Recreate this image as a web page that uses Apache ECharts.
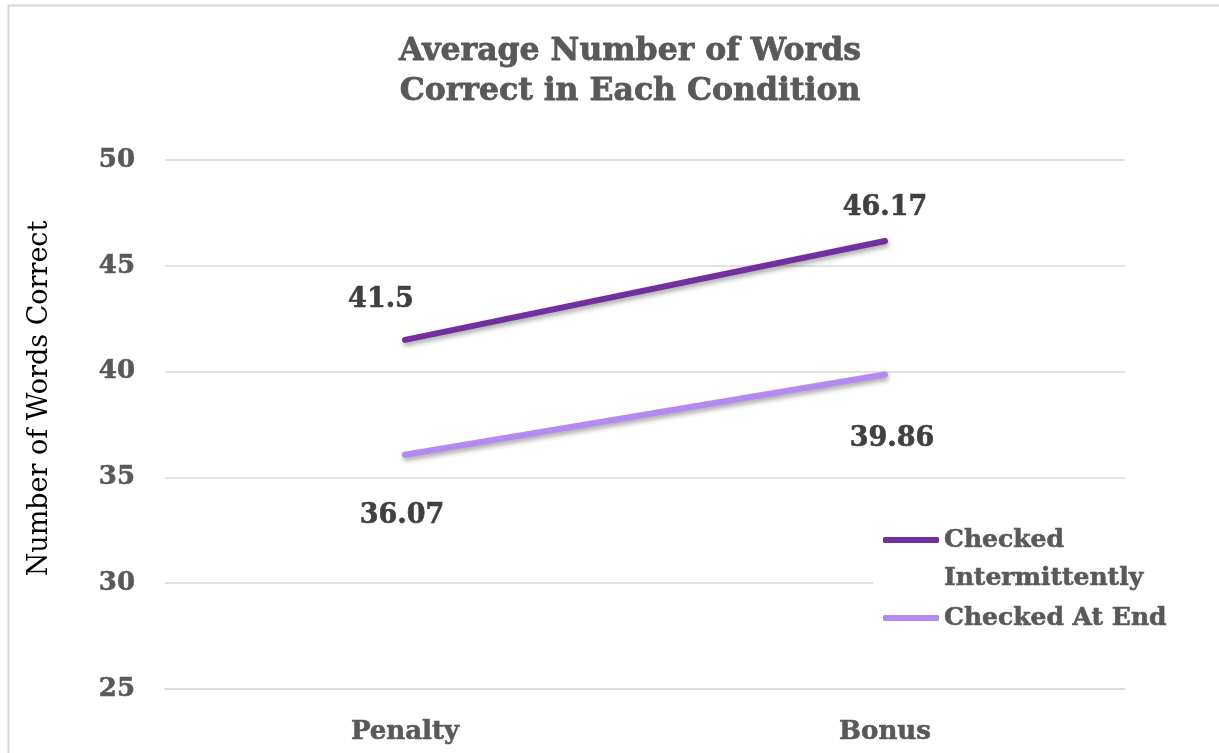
<!DOCTYPE html>
<html>
<head>
<meta charset="utf-8">
<script src="https://cdn.jsdelivr.net/npm/echarts@6/dist/echarts.min.js"></script>
<style>
html,body{margin:0;padding:0;background:#fff;}
#chart{width:1219px;height:753px;}
</style>
</head>
<body>
<div id="chart"></div>
<script>
const categories = ['Penalty', 'Bonus'];
const seriesNames = ['Checked Intermittently', 'Checked At End'];
const intermittent = [41.5, 46.17];
const atEnd = [36.07, 39.86];
const yTicks = [25, 30, 35, 40, 45, 50];

const FONT = '"DejaVu Serif", "Liberation Serif", serif';
const chart = echarts.init(document.getElementById('chart'));

const GREY = '#595959';
const labelBase = {show: true, position: 'inside', fontFamily: FONT, fontWeight: 'bold', fontSize: 27, color: '#404040', textBorderColor: '#404040', textBorderWidth: 0.6};

chart.setOption({
  backgroundColor: '#fff',
  animation: false,
  graphic: [{
    type: 'rect', silent: true, z: -10,
    shape: {x: 8.5, y: 5.5, width: 1400, height: 900},
    style: {fill: 'none', stroke: '#d9d9d9', lineWidth: 2}
  }],
  title: {
    text: 'Average Number of Words\nCorrect in Each Condition',
    left: 625, top: 27, textAlign: 'center',
    textStyle: {fontFamily: FONT, fontWeight: 'bold', fontSize: 31.5, lineHeight: 40, color: GREY, textBorderColor: GREY, textBorderWidth: 0.8}
  },
  grid: {left: 165, right: 94, top: 160, bottom: 64},
  legend: {
    orient: 'vertical', left: 873, top: 483, padding: [0, 10, 0, 10],
    backgroundColor: '#fff',
    icon: 'roundRect', itemWidth: 56, itemHeight: 6, itemGap: 2,
    formatter: function (n) { return n === seriesNames[0] ? '\nChecked\nIntermittently' : n; },
    textStyle: {fontFamily: FONT, fontWeight: 'bold', fontSize: 25, lineHeight: 38, color: GREY, textBorderColor: GREY, textBorderWidth: 0.6},
    data: seriesNames
  },
  xAxis: {
    type: 'category', data: categories, boundaryGap: true,
    axisLine: {lineStyle: {color: '#d9d9d9', width: 1.5}},
    axisTick: {show: false},
    axisLabel: {margin: 30, fontFamily: FONT, fontWeight: 'bold', fontSize: 26, color: GREY, textBorderColor: GREY, textBorderWidth: 0.6}
  },
  yAxis: {
    type: 'value', min: yTicks[0], max: yTicks[yTicks.length - 1], interval: 5,
    name: 'Number of Words Correct', nameLocation: 'middle', nameGap: 112, nameRotate: 90,
    nameTextStyle: {fontFamily: FONT, fontSize: 27, color: '#000', padding: [0, 0, 0, 52]},
    axisLine: {show: false}, axisTick: {show: false},
    axisLabel: {margin: 30, fontFamily: FONT, fontWeight: 'bold', fontSize: 26, color: GREY, textBorderColor: GREY, textBorderWidth: 0.6},
    splitLine: {lineStyle: {color: '#d9d9d9', width: 1.5}}
  },
  series: [
    {
      name: seriesNames[0], type: 'line', data: intermittent,
      symbol: 'circle', symbolSize: 0, showSymbol: true,
      itemStyle: {color: '#7030A0'},
      lineStyle: {width: 6, color: '#7030A0', cap: 'round', shadowColor: 'rgba(0,0,0,0.35)', shadowBlur: 5, shadowOffsetX: 1, shadowOffsetY: 3},
      label: labelBase,
      labelLayout: function (p) {
        return p.dataIndex === 0 ? {dx: -24, dy: -40} : {dx: 0, dy: -33};
      }
    },
    {
      name: seriesNames[1], type: 'line', data: atEnd,
      symbol: 'circle', symbolSize: 0, showSymbol: true,
      itemStyle: {color: '#B48AF0'},
      lineStyle: {width: 6, color: '#B48AF0', cap: 'round', shadowColor: 'rgba(0,0,0,0.35)', shadowBlur: 5, shadowOffsetX: 1, shadowOffsetY: 3},
      label: labelBase,
      labelLayout: function (p) {
        return p.dataIndex === 0 ? {dx: -3, dy: 61} : {dx: 7, dy: 64};
      }
    }
  ]
});
</script>
</body>
</html>
